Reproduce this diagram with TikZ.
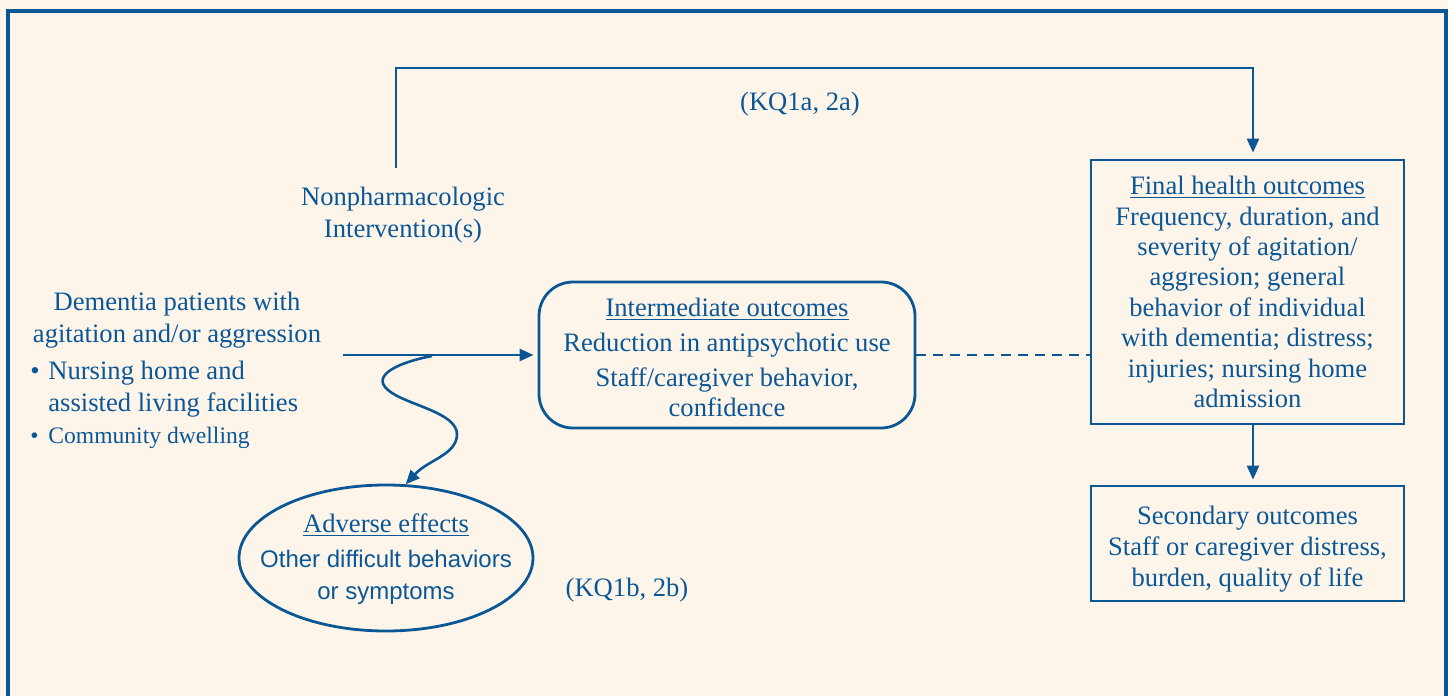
\documentclass[tikz,border=0pt]{standalone}
\usepackage{fontspec}
\setmainfont{Liberation Serif}
\newfontfamily\arialf{Liberation Sans}
\usetikzlibrary{arrows.meta,shapes.geometric}
\definecolor{bg}{HTML}{FEF5EA}
\definecolor{navy}{HTML}{0B5796}
\begin{document}
\begin{tikzpicture}[x=0.5pt,y=-0.5pt,
 txt/.style={text=navy, font=\fontsize{13.3}{15.7}\selectfont, align=center, inner sep=0pt},
 box/.style={txt, draw=navy, line width=1.4pt, fill=bg},
 ln/.style={draw=navy, line width=1.3pt},
 arr/.style={ln, -{Triangle[length=7pt,width=6pt]}}]
\fill[bg] (0,0) rectangle (1448,696);
\useasboundingbox (0,0) rectangle (1448,696);
\draw[navy, line width=1.6pt] (8,696) -- (8,11) -- (1446,11) -- (1446,696);

% nodes
\node[txt] (interv) at (403,215) {Nonpharmacologic\\Intervention(s)};
\node[txt] (kqa) at (800,104) {(KQ1a, 2a)};
\node[txt] (pop) at (177,320) {Dementia patients with\\agitation and/or aggression};
\node[txt, anchor=west, align=left] (b1) at (30,389) {\makebox[9pt][l]{\textbullet}Nursing home and\\\makebox[9pt][l]{}assisted living facilities};
\node[txt, anchor=west, font=\fontsize{11.8}{14}\selectfont] (b2) at (30,438) {\makebox[9pt][l]{\textbullet}Community dwelling};

\node[box, font=\fontsize{13.3}{15}\selectfont, rounded corners=17pt, minimum width=188pt, minimum height=73pt] (inter) at (727,355) {};
\node[txt, font=\fontsize{13.3}{15}\selectfont] (intertxt) at (727,357)
 {\underline{Intermediate outcomes}\\[2.5pt]Reduction in antipsychotic use\\[2.5pt]Staff/caregiver behavior,\\confidence};

\node[box, font=\fontsize{13.3}{15.2}\selectfont, minimum width=156.5pt, minimum height=132pt] (final) at (1247.5,292)
 {\underline{Final health outcomes}\\Frequency, duration, and\\severity of agitation/\\aggresion; general\\behavior of individual\\with dementia; distress;\\injuries; nursing home\\admission};

\node[box, minimum width=156.5pt, minimum height=57.5pt] (sec) at (1247.5,543.5) {};
\node[txt, font=\fontsize{13.3}{15.5}\selectfont] (sectxt) at (1247.5,549)
 {Secondary outcomes\\Staff or caregiver distress,\\burden, quality of life};

\node[box, ellipse, minimum width=147pt, minimum height=73pt] (adv) at (386,558) {};
\node[txt] (advtxt) at (386,559)
 {\underline{Adverse effects}\\[2pt]\arialf\fontsize{12}{15}\selectfont Other difficult behaviors\\\arialf\fontsize{12}{15}\selectfont or symptoms};

\node[txt] (kqb) at (627,590) {(KQ1b, 2b)};

% connectors
\coordinate (ni) at (396,168);
\coordinate (ps) at (343,355);
\coordinate (ws) at (432,356);
\draw[arr, shorten >=3pt] (ni) -- (396,68) -| ([xshift=2.75pt]final.north);
\draw[arr, shorten >=2pt] (ps) -- (inter.west);
\draw[ln, dash pattern=on 5pt off 3.5pt] (inter.east) -- (inter.east -| final.west);
\draw[arr, shorten >=2.5pt] ([xshift=2.75pt]final.south) -- ([xshift=2.75pt]sec.north);
\draw[arr] (ws) .. controls (400,362) and (370,375) .. (388,390)
  .. controls (405,405) and (458,412) .. (457,435)
  .. controls (456,455) and (428,460) .. (adv.75);
\end{tikzpicture}
\end{document}
